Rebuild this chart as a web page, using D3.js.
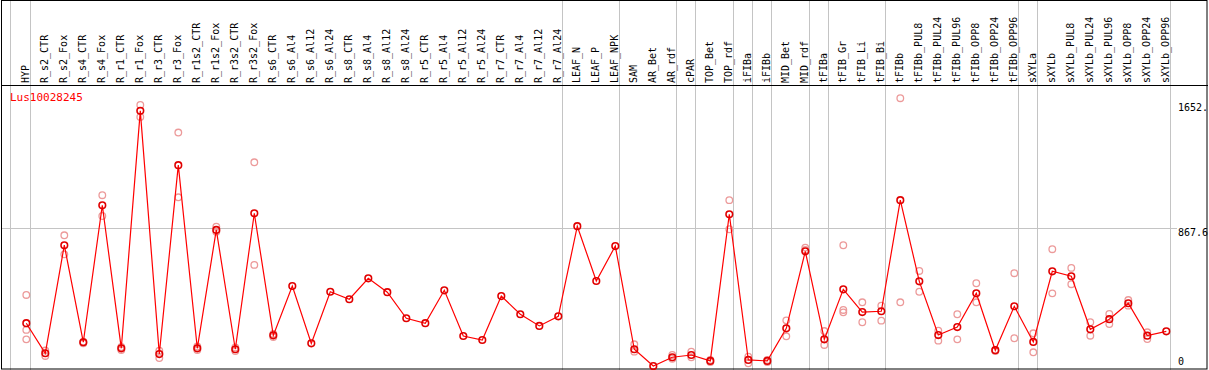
<!DOCTYPE html>
<html>
<head>
<meta charset="utf-8">
<script src="https://cdn.jsdelivr.net/npm/d3@7"></script>
<style>
  body { margin: 0; background: #fff; }
  svg { display: block; }
  text { font-family: "DejaVu Sans Mono", monospace; font-size: 10px; }
</style>
</head>
<body>
<svg id="chart" width="1209" height="370"></svg>
<script>
const geneName = "Lus10028245";

const samples = [
  "HYP", "R_s2_CTR", "R_s2_Fox", "R_s4_CTR", "R_s4_Fox", "R_r1_CTR", "R_r1_Fox",
  "R_r3_CTR", "R_r3_Fox", "R_r1s2_CTR", "R_r1s2_Fox", "R_r3s2_CTR", "R_r3s2_Fox",
  "R_s6_CTR", "R_s6_Al4", "R_s6_Al12", "R_s6_Al24", "R_s8_CTR", "R_s8_Al4",
  "R_s8_Al12", "R_s8_Al24", "R_r5_CTR", "R_r5_Al4", "R_r5_Al12", "R_r5_Al24",
  "R_r7_CTR", "R_r7_Al4", "R_r7_Al12", "R_r7_Al24", "LEAF_N", "LEAF_P", "LEAF_NPK",
  "SAM", "AR_Bet", "AR_rdf", "cPAR", "TOP_Bet", "TOP_rdf", "iFIBa", "iFIBb",
  "MID_Bet", "MID_rdf", "tFIBa", "tFIB_Gr", "tFIB_Li", "tFIB_Bi", "tFIBb",
  "tFIBb_PUL8", "tFIBb_PUL24", "tFIBb_PUL96", "tFIBb_OPP8", "tFIBb_OPP24", "tFIBb_OPP96",
  "sXYLa", "sXYLb", "sXYLb_PUL8", "sXYLb_PUL24", "sXYLb_PUL96", "sXYLb_OPP8",
  "sXYLb_OPP24", "sXYLb_OPP96"
];

// mean expression per sample (red line)
const means = [
  274, 86, 762, 155, 1012, 117, 1603, 81, 1263, 117, 858, 111, 962,
  198, 507, 148, 471, 424, 555, 468, 305, 274, 480, 194, 169,
  444, 330, 257, 317, 881, 538, 757,
  111, 6, 61, 75, 38, 956, 44, 38, 242, 724, 173, 486, 344, 349, 1044,
  536, 200, 250, 461, 105, 380,
  157, 599, 568, 236, 299, 399, 196, 223
];

// individual replicates (pink circles)
const replicates = [
  [451, 232, 173], [103, 69], [824, 705], [158, 148], [1075, 945], [125, 106],
  [1640, 1565], [102, 56], [1467, 1062], [128, 106], [878, 847], [122, 100],
  [1281, 639], [207, 188], [], [], [], [], [], [], [], [], [], [], [],
  [], [], [], [], [], [], [],
  [142, 96], [], [75, 52], [96, 61], [44, 31], [1044, 862], [64, 23], [44, 31],
  [292, 192], [747, 732], [225, 138], [762, 357, 342], [405, 280], [384, 290],
  [1682, 405], [601, 471], [227, 165], [330, 173], [524, 405], [106, 100],
  [587, 180], [211, 92], [737, 461], [620, 518], [280, 196], [332, 269],
  [419, 384], [217, 175], []
];

// index of last sample in each group
const groupEnds = [0, 28, 31, 34, 35, 37, 38, 39, 41, 42, 45, 52, 53, 60];

const yTicks = [0, 867.6, 1652];
const yTickLabels = ["0", "867.6", "1652."];

const W = 1209, H = 370;
const headerBottom = 85.5;

const svg = d3.select("#chart");

const x = d3.scaleLinear().domain([0, samples.length - 1]).range([26.3, 1166.3]);
const y = d3.scaleLinear().domain([0, 1652]).range([367, 103]);

// Group separators
const gridG = svg.append("g").attr("stroke", "#c4c4c4").attr("stroke-width", 1);
gridG.append("line")
  .attr("x1", 10.5).attr("x2", 10.5)
  .attr("y1", 0).attr("y2", H);
gridG.selectAll(".sep")
  .data(groupEnds)
  .join("line")
  .attr("class", "sep")
  .attr("x1", (d) => Math.round(x(d) + 4) + 0.5)
  .attr("x2", (d) => Math.round(x(d) + 4) + 0.5)
  .attr("y1", 0)
  .attr("y2", H);

// Mid gridline
gridG.append("line")
  .attr("x1", 1).attr("x2", 1177)
  .attr("y1", Math.round(y(yTicks[1])) + 0.5)
  .attr("y2", Math.round(y(yTicks[1])) + 0.5);

// Frame
svg.append("rect")
  .attr("x", 1.5).attr("y", 0.5)
  .attr("width", W - 3.5).attr("height", H - 1.5)
  .attr("fill", "none")
  .attr("stroke", "#000");
svg.append("line")
  .attr("x1", 1).attr("x2", W - 1)
  .attr("y1", headerBottom).attr("y2", headerBottom)
  .attr("stroke", "#000");

// Sample labels
svg.append("g")
  .selectAll("text")
  .data(samples)
  .join("text")
  .attr("transform", (d, i) => `translate(${x(i) + 3},83) rotate(-90)`)
  .attr("fill", "#000")
  .text((d) => d);

// Gene name
svg.append("text")
  .attr("x", 10)
  .attr("y", 101)
  .attr("fill", "#ff0000")
  .style("font-size", "11px")
  .text(geneName);

// Right value labels
svg.append("g")
  .selectAll("text")
  .data(yTicks)
  .join("text")
  .attr("x", 1178)
  .attr("y", (d) => Math.min(y(d) + 8, 365))
  .attr("fill", "#000")
  .text((d, i) => yTickLabels[i]);

// Replicates
const repPoints = replicates.flatMap((reps, i) => reps.map((v) => ({ i, v })));
svg.append("g")
  .selectAll("circle")
  .data(repPoints)
  .join("circle")
  .attr("cx", (d) => x(d.i))
  .attr("cy", (d) => y(d.v))
  .attr("r", 3.3)
  .attr("fill", "none")
  .attr("stroke", "#ec9a9a")
  .attr("stroke-width", 1.3);

// Mean line
const lineGen = d3.line()
  .x((d, i) => x(i))
  .y((d) => y(d));

svg.append("path")
  .attr("d", lineGen(means))
  .attr("fill", "none")
  .attr("stroke", "#ff0000")
  .attr("stroke-width", 1.2);

// Mean points
svg.append("g")
  .selectAll("circle")
  .data(means)
  .join("circle")
  .attr("cx", (d, i) => x(i))
  .attr("cy", (d) => y(d))
  .attr("r", 3.3)
  .attr("fill", "none")
  .attr("stroke", "#e00000")
  .attr("stroke-width", 1.6);
</script>
</body>
</html>
